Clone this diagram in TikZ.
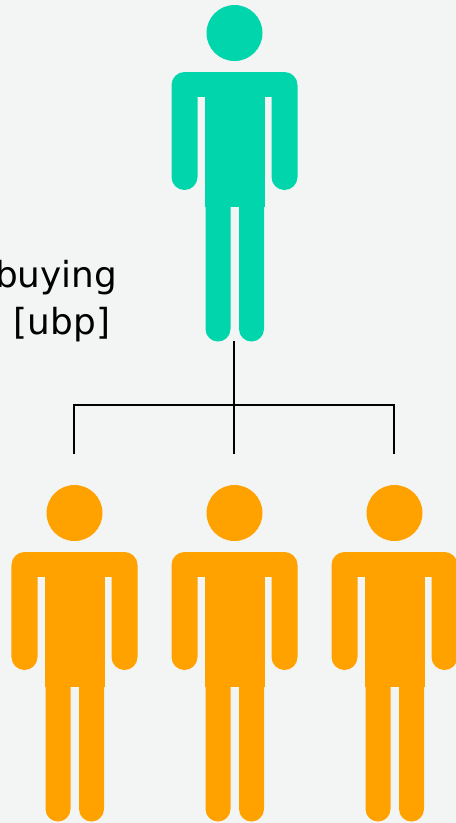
\documentclass[tikz,border=0pt]{standalone}
\usepackage{fontspec}
\setmainfont{DejaVu Sans}
\definecolor{pagegrey}{HTML}{F3F5F4}
\definecolor{buyerteal}{HTML}{00D5AC}
\definecolor{userorange}{HTML}{FFA200}
\tikzset{
	person/.pic={
		% head
		\fill (0,0) circle (28);
		% arms
		\fill[rounded corners=0.26cm] (-63,39) rectangle (-37,157);
		\fill[rounded corners=0.26cm] (37,39) rectangle (63,157);
		% shoulders and torso
		\fill (-50,39) rectangle (50,64);
		\fill (-30,39) rectangle (30,174);
		% legs
		\fill (-29,174) -- (-29,296) arc (180:0:12.5) -- (-4,174) -- cycle;
		\fill (4.5,174) -- (4.5,296) arc (180:0:12.5) -- (29.5,174) -- cycle;
	},
	treeline/.style={draw=black, line width=0.03cm},
	labeltext/.style={text=black, inner sep=0pt, font=\fontsize{20.4}{24}\selectfont}
}
\begin{document}
\begin{tikzpicture}[x=0.02cm, y=-0.02cm]
	
	% background
	\fill[pagegrey] (0,0) rectangle (456,823);
	\useasboundingbox (0,0) rectangle (456,823);
	
	% people
	\pic[fill=buyerteal, buyerteal] at (234.5,33) {person};
	\pic[fill=userorange, userorange] at (74.5,513) {person};
	\pic[fill=userorange, userorange] at (234.5,513) {person};
	\pic[fill=userorange, userorange] at (394.5,513) {person};
	
	% labels
	\node[labeltext, anchor=base east] (buying) at (117.5,287) {buying};
	\node[labeltext, anchor=base east] (ubp) at (110.5,334) {[ubp]};
	
	% tree
	\coordinate (topfeet) at (234,341);
	\coordinate (branch) at (234,405);
	\coordinate (leftdrop) at (74,405);
	\coordinate (rightdrop) at (394,405);
	\coordinate (lefthead) at (74,454);
	\coordinate (midhead) at (234,454);
	\coordinate (righthead) at (394,454);
	\draw[treeline] (topfeet) -- (midhead);
	\draw[treeline] (lefthead) -- (leftdrop) -- (rightdrop) -- (righthead);
	
\end{tikzpicture}
\end{document}
